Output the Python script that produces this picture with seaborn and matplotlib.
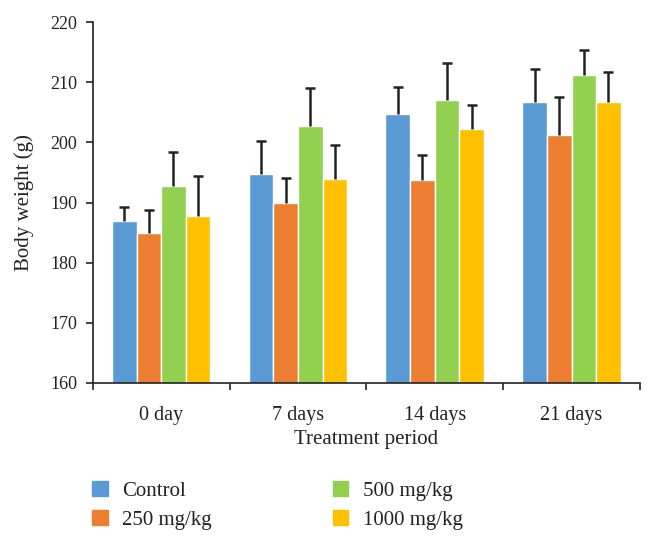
import pandas as pd
import seaborn as sns
import matplotlib.pyplot as plt
from matplotlib.ticker import FixedLocator

# 데이터
periods = ["0 day", "7 days", "14 days", "21 days"]
groups = ["Control", "250 mg/kg", "500 mg/kg", "1000 mg/kg"]
control = [186.9, 194.7, 204.7, 206.8]
dose_250 = [185.0, 190.0, 193.7, 201.3]
dose_500 = [192.7, 202.8, 207.1, 211.3]
dose_1000 = [187.7, 194.0, 202.3, 206.8]
# 오차 (위쪽만)
err_control = [2.3, 5.6, 4.5, 5.5]
err_250 = [3.8, 4.1, 4.2, 6.3]
err_500 = [5.7, 6.3, 6.2, 4.1]
err_1000 = [6.7, 5.6, 4.0, 5.0]

colors = ["#5B9BD5", "#ED7D31", "#92D050", "#FFC000"]

values = [control, dose_250, dose_500, dose_1000]
errors = [err_control, err_250, err_500, err_1000]
df = pd.DataFrame({
    "period": periods * 4,
    "group": [g for g in groups for _ in periods],
    "weight": [v for vals in values for v in vals],
})

sns.set_style("ticks")
plt.rcParams["font.family"] = ["Liberation Serif", "DejaVu Serif"]

fig = plt.figure(figsize=(6.53, 5.43), dpi=100)
ax = fig.add_axes([0.142, 0.295, 0.838, 0.664])

sns.barplot(data=df, x="period", y="weight", hue="group", order=periods,
            hue_order=groups, palette=colors, width=0.72, errorbar=None,
            saturation=1, ax=ax, legend=False)

# 위쪽 오차 막대 (아래쪽 캡 없이)
for container, err in zip(ax.containers, errors):
    xs = [p.get_x() + p.get_width() / 2 for p in container.patches]
    ys = [p.get_height() for p in container.patches]
    tops = [y + e for y, e in zip(ys, err)]
    ax.vlines(xs, ys, tops, color="#222222", linewidth=1.8, zorder=3)
    ax.scatter(xs, tops, marker="_", s=60, color="#222222", linewidths=1.8, zorder=3)

ax.set_ylim(160, 220)
ax.set_xlim(-0.5, 3.5)
ax.set_yticks(range(160, 221, 10))

# x축: 경계에 눈금, 중앙에 라벨
ax.xaxis.set_major_locator(FixedLocator([-0.5, 0.5, 1.5, 2.5, 3.5]))
ax.set_xticklabels([])
ax.xaxis.set_minor_locator(FixedLocator([0, 1, 2, 3]))
ax.set_xticklabels(periods, minor=True)
ax.tick_params(axis="x", which="major", direction="out", length=5, width=1.2, color="#222222")
ax.tick_params(axis="x", which="minor", length=0, pad=17, labelsize=14.5, labelcolor="#222222")
ax.tick_params(axis="y", direction="out", length=5, width=1.2, color="#222222",
               labelsize=13, labelcolor="#222222", pad=6)

sns.despine(ax=ax)
for s in ["left", "bottom"]:
    ax.spines[s].set_color("#222222")
    ax.spines[s].set_linewidth(1.2)

ax.set_xlabel("Treatment period", fontsize=15, labelpad=3, color="#222222")
ax.set_ylabel("Body weight (g)", fontsize=15, labelpad=12, color="#222222")

handles = [plt.Rectangle((0, 0), 1, 1, color=c) for c in colors]
fig.legend(handles, groups, ncol=2, loc="upper left", bbox_to_anchor=(0.112, 0.149),
           frameon=False, fontsize=15, handlelength=0.75, handleheight=0.75,
           handletextpad=0.7, columnspacing=5.8, labelspacing=0.45,
           labelcolor="#222222")

fig.savefig("out.png", dpi=100)
